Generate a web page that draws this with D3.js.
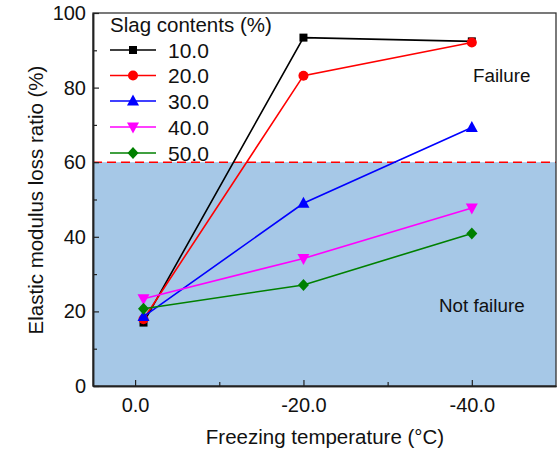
<!DOCTYPE html>
<html>
<head>
<meta charset="utf-8">
<script src="https://d3js.org/d3.v7.min.js"></script>
<style>
  body { margin: 0; background: #fff; }
  text { font-family: "Liberation Sans", Arial, sans-serif; fill: #111; }
</style>
</head>
<body>
<script>
// ---- data ----
var temps = [-1, -20, -40];
var slag = ["10.0", "20.0", "30.0", "40.0", "50.0"];
var loss10 = [17.0, 93.4, 92.4];
var loss20 = [17.9, 83.2, 92.1];
var loss30 = [18.6, 49.0, 69.3];
var loss40 = [23.4, 34.2, 47.7];
var loss50 = [20.7, 27.1, 40.9];
var colors = ["#000000", "#ff0000", "#0000ff", "#ff00ff", "#008000"];
var symbols = ["square", "circle", "up", "down", "diamond"];
var xTicks = [0, -20, -40];
var xTickLabels = ["0.0", "-20.0", "-40.0"];
var yTicks = [0, 20, 40, 60, 80, 100];
var failLimit = 60;

var series = [loss10, loss20, loss30, loss40, loss50];

var W = 560, H = 453;
var pLeft = 93, pRight = 556, pTop = 13, pBottom = 386;

var svg = d3.select("body").append("svg").attr("width", W).attr("height", H);

var x = d3.scaleLinear().domain([5, -50]).range([pLeft, pRight]);
var y = d3.scaleLinear().domain([0, 100]).range([pBottom, pTop]);

// not failure zone
svg.append("rect")
  .attr("x", pLeft).attr("y", y(failLimit))
  .attr("width", pRight - pLeft).attr("height", y(0) - y(failLimit))
  .attr("fill", "#a6c8e7");

// failure limit
svg.append("line")
  .attr("x1", pLeft).attr("x2", pRight)
  .attr("y1", y(failLimit)).attr("y2", y(failLimit))
  .attr("stroke", "#ff0000").attr("stroke-width", 1.5)
  .attr("stroke-dasharray", "9,5");

// frame
svg.append("rect")
  .attr("x", pLeft).attr("y", pTop)
  .attr("width", pRight - pLeft).attr("height", pBottom - pTop)
  .attr("fill", "none").attr("stroke", "#333").attr("stroke-width", 1.3);

// axes (ticks inward)
var xAxis = svg.append("g").attr("transform", "translate(0," + pBottom + ")")
  .call(d3.axisBottom(x).tickValues(xTicks).tickSizeInner(-6).tickSizeOuter(0)
    .tickFormat(function (d, i) { return xTickLabels[i]; }));
var xMinor = svg.append("g").attr("transform", "translate(0," + pBottom + ")")
  .call(d3.axisBottom(x).tickValues([-10, -30]).tickSizeInner(-4).tickSizeOuter(0).tickFormat(""));
var yAxis = svg.append("g").attr("transform", "translate(" + pLeft + ",0)")
  .call(d3.axisLeft(y).tickValues(yTicks).tickSizeInner(-6).tickSizeOuter(0));
var yMinor = svg.append("g").attr("transform", "translate(" + pLeft + ",0)")
  .call(d3.axisLeft(y).tickValues([10, 30, 50, 70, 90]).tickSizeInner(-4).tickSizeOuter(0).tickFormat(""));

[xAxis, xMinor, yAxis, yMinor].forEach(function (g) {
  g.select(".domain").attr("stroke", "#222").attr("stroke-width", 1.5);
  g.selectAll(".tick line").attr("stroke", "#222").attr("stroke-width", 1.2);
});
xAxis.selectAll(".tick text").attr("font-size", 20).attr("y", 12)
  .attr("font-family", "Liberation Sans, Arial, sans-serif").attr("fill", "#111");
yAxis.selectAll(".tick text").attr("font-size", 20).attr("x", -7)
  .attr("font-family", "Liberation Sans, Arial, sans-serif").attr("fill", "#111");

// axis titles
svg.append("text")
  .attr("x", 325).attr("y", 444)
  .attr("text-anchor", "middle").attr("font-size", 20.5)
  .text("Freezing temperature (\u00B0C)");
svg.append("text")
  .attr("transform", "translate(43," + 200 + ") rotate(-90)")
  .attr("text-anchor", "middle").attr("font-size", 20.5)
  .text("Elastic modulus loss ratio (%)");

// zone labels
svg.append("text").attr("x", 473).attr("y", 82).attr("font-size", 18.8).text("Failure");
svg.append("text").attr("x", 439).attr("y", 312).attr("font-size", 18.8).text("Not failure");

function marker(g, sym, color) {
  if (sym === "circle") {
    g.append("circle").attr("r", 5).attr("fill", color);
  } else if (sym === "square") {
    g.append("rect").attr("x", -4).attr("y", -4).attr("width", 8).attr("height", 8).attr("fill", color);
  } else if (sym === "up") {
    g.append("path").attr("d", "M0,-6.5L6,4.5L-6,4.5Z").attr("fill", color);
  } else if (sym === "down") {
    g.append("path").attr("d", "M0,6.5L6,-4.5L-6,-4.5Z").attr("fill", color);
  } else {
    g.append("path").attr("d", "M0,-6L5.5,0L0,6L-5.5,0Z").attr("fill", color);
  }
}

var line = d3.line().x(function (d, i) { return x(temps[i]); }).y(function (d) { return y(d); });

series.forEach(function (vals, k) {
  svg.append("path").datum(vals).attr("d", line)
    .attr("fill", "none").attr("stroke", colors[k]).attr("stroke-width", 1.6);
});
series.forEach(function (vals, k) {
  vals.forEach(function (v, i) {
    var g = svg.append("g").attr("transform", "translate(" + x(temps[i]) + "," + y(v) + ")");
    marker(g, symbols[k], colors[k]);
  });
});

// legend
var leg = svg.append("g").attr("transform", "translate(110,0)");
leg.append("text").attr("x", 0).attr("y", 32).attr("font-size", 20.5).text("Slag contents (%)");
var legY = [50, 75.5, 101, 127, 153];
slag.forEach(function (s, k) {
  var row = leg.append("g").attr("transform", "translate(0," + legY[k] + ")");
  row.append("line").attr("x1", 0).attr("x2", 46).attr("stroke", colors[k]).attr("stroke-width", 1.6);
  var m = row.append("g").attr("transform", "translate(23,0)");
  marker(m, symbols[k], colors[k]);
  row.append("text").attr("x", 58).attr("y", 7.5).attr("font-size", 21).text(s);
});
</script>
</body>
</html>
